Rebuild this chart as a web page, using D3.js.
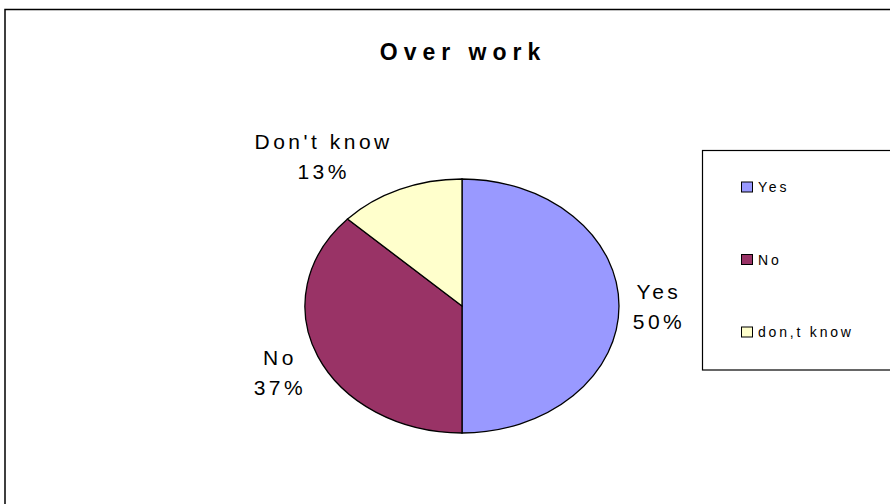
<!DOCTYPE html>
<html>
<head>
<meta charset="utf-8">
<script src="https://cdn.jsdelivr.net/npm/d3@7"></script>
<style>
  html, body { margin: 0; padding: 0; background: #fff; }
  svg { display: block; font-family: "Liberation Sans", Arial, sans-serif; }
</style>
</head>
<body>
<svg id="chart" width="890" height="504"></svg>
<script>
// Survey answers for "Over work"
const title = "Over work";
const sliceLabels = ["Yes", "No", "Don't know"];
const legendLabels = ["Yes", "No", "don,t know"];
const percentages = [50, 37, 13];
const colors = ["#9999FF", "#993366", "#FFFFCC"];

// Layout
const W = 890, H = 504;
const pieCx = 462, pieCy = 306, pieRx = 157, pieRy = 127;
// label offsets from the slice's outer mid point (dx, dy of the label centre)
const labelOffsets = [[38, 0], [-40, 16], [-78, -33]];
const lineGap = 30;

const svg = d3.select("#chart");

svg.append("rect").attr("width", W).attr("height", H).attr("fill", "#fff");

// outer chart frame (runs off the right and bottom edges)
svg.append("rect")
  .attr("x", 5).attr("y", 9.5)
  .attr("width", W + 20).attr("height", H + 20)
  .attr("fill", "none").attr("stroke", "#000").attr("stroke-width", 1.5);

svg.append("text")
  .attr("x", 463).attr("y", 60)
  .attr("text-anchor", "middle")
  .attr("font-size", 23).attr("font-weight", "bold")
  .attr("letter-spacing", 6)
  .text(title);

// pie as a unit circle stretched into an ellipse
const pie = d3.pie().sort(null).value(d => d)(percentages);
const arc = d3.arc().innerRadius(0).outerRadius(1);

const pieG = svg.append("g")
  .attr("transform", `translate(${pieCx},${pieCy}) scale(${pieRx},${pieRy})`);

pieG.selectAll("path")
  .data(pie)
  .join("path")
  .attr("d", arc)
  .attr("fill", (d, i) => colors[i])
  .attr("stroke", "#000")
  .attr("stroke-width", 1.3)
  .attr("vector-effect", "non-scaling-stroke");

// slice labels
pie.forEach((d, i) => {
  const mid = (d.startAngle + d.endAngle) / 2;
  const ex = pieCx + pieRx * Math.sin(mid);
  const ey = pieCy - pieRy * Math.cos(mid);
  const lx = ex + labelOffsets[i][0];
  const ly = ey + labelOffsets[i][1];
  const t = svg.append("text")
    .attr("text-anchor", "middle")
    .attr("font-size", 21)
    .attr("letter-spacing", 3.5)
    .attr("fill", "#000");
  t.append("tspan").attr("x", lx + 2).attr("y", ly - lineGap / 2 + 8).text(sliceLabels[i]);
  t.append("tspan").attr("x", lx + 2).attr("y", ly + lineGap / 2 + 8).text(d.data + "%");
});

// legend
svg.append("rect")
  .attr("x", 702.5).attr("y", 150.5)
  .attr("width", 300).attr("height", 219.5)
  .attr("fill", "#fff").attr("stroke", "#000").attr("stroke-width", 1.2);

const ly = d3.scalePoint().domain(legendLabels).range([187, 332]);

const items = svg.selectAll("g.legend-item")
  .data(legendLabels)
  .join("g")
  .attr("class", "legend-item")
  .attr("transform", d => `translate(741,${ly(d)})`);

items.append("rect")
  .attr("x", 0.5).attr("y", -5)
  .attr("width", 11).attr("height", 10)
  .attr("fill", (d, i) => colors[i])
  .attr("stroke", "#000").attr("stroke-width", 1);

items.append("text")
  .attr("x", 17).attr("y", 5)
  .attr("font-size", 14)
  .attr("letter-spacing", 2.8)
  .text(d => d);
</script>
</body>
</html>
